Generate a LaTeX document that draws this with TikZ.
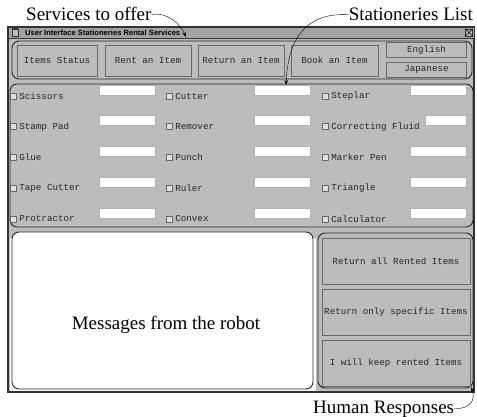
\documentclass[tikz,border=0pt]{standalone}
\usepackage{fontspec}
\setmainfont{Liberation Serif}
\newfontfamily\guifont{Liberation Mono}
\newfontfamily\barfont{Liberation Sans}
\usetikzlibrary{arrows.meta}

\definecolor{guigray}{RGB}{188,188,188}
\definecolor{bargray}{RGB}{163,163,163}
\definecolor{edgegray}{RGB}{105,105,105}

\begin{document}
\begin{tikzpicture}[
  x=1pt, y=-1pt,
  note/.style={font=\fontsize{19}{21}\selectfont, inner sep=0pt},
  gui/.style={font=\guifont\fontsize{9.2}{11}\selectfont, text=black!85},
  winbox/.style={draw=black!80, line width=1.2pt, fill=guigray, rectangle, inner sep=0pt},
  panel/.style={draw=black!85, line width=0.9pt, rounded corners=7pt, rectangle, inner sep=0pt},
  btn/.style={gui, draw=edgegray, fill=guigray, rectangle, inner sep=0pt},
  fld/.style={draw=black!30, fill=white, rectangle, inner sep=0pt, minimum height=10pt},
  chk/.style={draw=edgegray, fill=black!12, rectangle, inner sep=0pt, minimum size=6pt},
  arr/.style={-{Stealth[length=5pt,width=3.5pt]}, thin},
]
  \useasboundingbox (0,0) rectangle (477,417);

  % --- Window and title bar ---
  \node[winbox, minimum width=466pt, minimum height=365pt] (win) at (241,209.5) {};
  \fill[white] (9.5,238) rectangle (316,391);
  \node[winbox, fill=bargray, line width=0.6pt, minimum width=466pt, minimum height=11pt] (bar) at (241,32.5) {};
  \node[chk, fill=guigray, draw=black!80, minimum size=6.5pt] (menu) at (15,32.5) {};
  \draw[line width=1.2pt, black!80] (menu.north west) -- (menu.north east);
  \node[font=\barfont\bfseries\fontsize{7.6}{8}\selectfont, anchor=west, inner sep=0pt]
    (ttl) at (25,32.8) {User Interface Stationeries Rental Services};
  \node[chk, fill=guigray, draw=black!80, minimum size=7pt] (cls) at (469,32.5) {};
  \draw (cls.north west) -- (cls.south east) (cls.north east) -- (cls.south west);

  % --- Services panel ---
  \node[panel, minimum width=460pt, minimum height=38pt] (svcbox) at (242,60) {};
  \foreach \nm/\cx/\w/\lbl in {status/57/80/Items Status, rent/148/86/Rent an Item,
                               return/241/86/Return an Item, book/334.5/87/Book an Item}
    \node[btn, minimum width=\w pt, minimum height=31pt] (\nm) at (\cx,60.5) {\lbl};
  \node[btn, minimum width=80pt, minimum height=15pt] (eng) at (426.5,50) {English};
  \node[btn, minimum width=80pt, minimum height=15pt] (jap) at (426.5,69.5) {Japanese};

  % --- Stationeries panel ---
  \node[panel, minimum width=463pt, minimum height=143pt] (listbox) at (241.5,155.5) {};
  \foreach \c/\cx/\fx/\items in {1/13/155/{Scissors,Stamp Pad,Glue,Tape Cutter,Protractor},
                                 2/169/310/{Cutter,Remover,Punch,Ruler,Convex},
                                 3/325/466/{Steplar,Correcting Fluid,Marker Pen,Triangle,Calculator}}
    \foreach \lbl [count=\r] in \items {
      \pgfmathsetmacro\ry{95+30.7*(\r-1)}
      \pgfmathsetmacro\fw{(\c==3 && \r==2) ? 41 : 56}
      \node[chk] (chk\c\r) at (\cx,\ry+1) {};
      \node[gui, anchor=west, inner sep=0pt] (itm\c\r) at ([xshift=3pt]chk\c\r.east) {\lbl};
      \node[fld, minimum width=\fw pt, anchor=east] (fld\c\r) at (\fx,\ry-5) {};
    }

  % --- Messages and responses ---
  \node[panel, fill=white, minimum width=301pt, minimum height=157pt] (msgbox) at (162.5,310.5) {};
  \node[note, anchor=base] (msg) at (166,329) {Messages from the robot};
  \node[panel, fill=guigray, minimum width=155pt, minimum height=155pt] (respbox) at (395.5,310.5) {};
  \foreach \lbl [count=\i] in {Return all Rented Items, Return only specific Items, I will keep rented Items}
    \node[btn, minimum width=148pt, minimum height=46pt] (resp\i) at (396,{261+51*(\i-1)}) {\lbl};

  % --- Annotations ---
  \node[note, anchor=base west] (svc) at (26,21) {Services to offer};
  \node[note, anchor=base east] (lst) at (473,21) {Stationeries List};
  \node[note, anchor=base west] (hum) at (313,413) {Human Responses};
  \coordinate (svctip) at (186,37);
  \coordinate (lsttip) at (286,85);
  \coordinate (humtip) at (471,387);
  \draw[arr] (svc.east) .. controls (168,12) and (180,24) .. (svctip);
  \draw[arr] (lst.west) .. controls (305,12) and (288,40) .. (lsttip);
  \draw[arr] (hum.east) .. controls (470,409) and (476,400) .. (humtip);
\end{tikzpicture}
\end{document}
